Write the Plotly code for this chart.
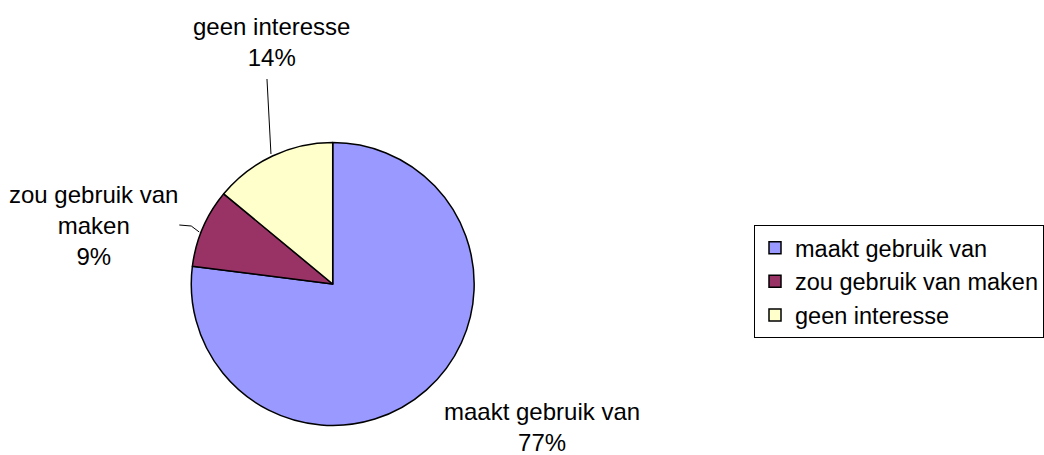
import plotly.graph_objects as go

W, H = 1044, 455

categories = ["maakt gebruik van", "zou gebruik van maken", "geen interesse"]
values = [77, 9, 14]
colors = ["#9999FF", "#993366", "#FFFFCC"]
label_texts = ["maakt gebruik van<br>77%", "zou gebruik van<br>maken<br>9%", "geen interesse<br>14%"]


def px(x):
    return x / W


def py(y):
    return 1 - y / H


FONT = "Liberation Sans, Arial, sans-serif"
cx, cy, r = 334, 284, 142

fig = go.Figure(go.Pie(
    labels=categories,
    values=values,
    marker=dict(colors=colors, line=dict(color="black", width=1.5)),
    sort=False,
    direction="clockwise",
    rotation=0,
    textinfo="none",
    hoverinfo="label+percent",
    domain=dict(x=[px(cx - r), px(cx + r)], y=[py(cy + r), py(cy - r)]),
))

# label placement (pixel centres)
label_pos = [(544, 427), (94, 225), (273, 41.5)]
for txt, (x, y) in zip(label_texts, label_pos):
    fig.add_annotation(
        x=px(x), y=py(y), xref="paper", yref="paper",
        text=txt, showarrow=False, xanchor="center", yanchor="middle",
        align="center", font=dict(family=FONT, size=24, color="black"),
    )

# leader lines
leaders = [
    [(268, 79), (272, 154)],
    [(180, 225), (192, 226), (200, 232)],
]
for pts in leaders:
    for (x0, y0), (x1, y1) in zip(pts[:-1], pts[1:]):
        fig.add_shape(type="line", xref="paper", yref="paper",
                      x0=px(x0), y0=py(y0), x1=px(x1), y1=py(y1),
                      line=dict(color="black", width=1))

fig.update_layout(
    width=W, height=H,
    margin=dict(l=0, r=0, t=0, b=0),
    paper_bgcolor="white",
    plot_bgcolor="white",
    showlegend=True,
    legend=dict(
        x=px(757), y=py(225), xanchor="left", yanchor="top",
        bordercolor="black", borderwidth=1, bgcolor="white",
        font=dict(family=FONT, size=23.5, color="black"),
        itemwidth=30,
    ),
)

fig.write_html(
    "out.html",
    config={"displayModeBar": False},
    post_script="document.body.style.margin='0';document.body.style.overflow='hidden';",
)
